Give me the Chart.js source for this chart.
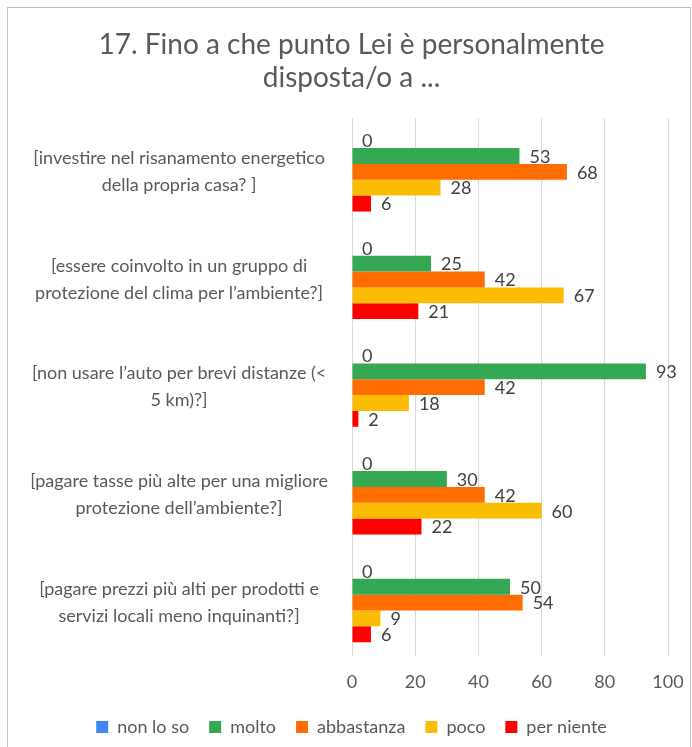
<!DOCTYPE html>
<html>
<head>
<meta charset="utf-8">
<script src="https://cdn.jsdelivr.net/npm/chart.js@4.4.1/dist/chart.umd.min.js"></script>
<style>
body{margin:0;background:#fff;}
#wrap{width:692px;height:747px;position:relative;}
</style>
</head>
<body>
<div id="wrap"><canvas id="myChart" width="692" height="747"></canvas></div>
<script>
var categories=[
	['[investire nel risanamento energetico','della propria casa? ]'],
	['[essere coinvolto in un gruppo di','protezione del clima per l\u2019ambiente?]'],
	['[non usare l\u2019auto per brevi distanze (<','5 km)?]'],
	['[pagare tasse pi\u00f9 alte per una migliore','protezione dell\u2019ambiente?]'],
	['[pagare prezzi pi\u00f9 alti per prodotti e','servizi locali meno inquinanti?]']
];
var seriesNames=['non lo so','molto','abbastanza','poco','per niente'];
var nonLoSo=[0,0,0,0,0];
var molto=[53,25,93,30,50];
var abbastanza=[68,42,42,42,54];
var poco=[28,67,18,60,9];
var perNiente=[6,21,2,22,6];
var xTicks=[0,20,40,60,80,100];
var colors=['#4285f4','#34a853','#ff6d01','#fbbc04','#ff0000'];

var allSeries=[nonLoSo,molto,abbastanza,poco,perNiente];
var datasets=allSeries.map(function(d,i){
	return {label:seriesNames[i],data:d,backgroundColor:colors[i],borderWidth:0,
		categoryPercentage:0.735,barPercentage:1};
});

var fontFam='Lato, "Open Sans", sans-serif';

var labelPlugin={
	id:'valueLabels',
	afterDatasetsDraw:function(chart){
		var c=chart.ctx;
		c.save();
		c.font='18px '+fontFam;
		c.fillStyle='#404040';
		c.textAlign='left';
		c.textBaseline='middle';
		chart.data.datasets.forEach(function(ds,i){
			chart.getDatasetMeta(i).data.forEach(function(bar,j){
				c.fillText(ds.data[j],bar.x+10,bar.y+1);
			});
		});
		c.restore();
	}
};
var borderPlugin={
	id:'frame',
	beforeDraw:function(chart){
		var c=chart.ctx;
		c.save();
		c.fillStyle='#fff';
		c.fillRect(0,0,chart.width,chart.height);
		c.strokeStyle='#bfbfbf';
		c.lineWidth=1;
		c.strokeRect(7.5,7.5,683,760);
		c.restore();
	}
};
// keep wide spacing between legend items but a short legend box
var legendHeight={
	id:'legendHeight',
	beforeLayout:function(chart){
		var lg=chart.legend;
		if(lg && !lg._fixed){
			var fit=lg.fit;
			lg.fit=function(){fit.call(this);this.height=39;};
			lg._fixed=true;
		}
	},
	afterLayout:function(chart){
		var lg=chart.legend;
		if(lg){lg.top-=10;lg.bottom-=10;}
	}
};

var ctx=document.getElementById('myChart').getContext('2d');
var myChart=new Chart(ctx,{
	type:'bar',
	data:{labels:categories,datasets:datasets},
	plugins:[borderPlugin,labelPlugin,legendHeight],
	options:{
		indexAxis:'y',
		responsive:false,
		animation:false,
		layout:{padding:{left:24,right:13,top:14,bottom:0}},
		plugins:{
			title:{display:true,text:['17. Fino a che punto Lei \u00e8 personalmente','disposta/o a ...'],
				color:'#595959',font:{family:fontFam,size:28,weight:'normal',lineHeight:1.16},
				padding:{top:15,bottom:24}},
			legend:{position:'bottom',
				labels:{color:'#595959',boxWidth:12,boxHeight:12,padding:20,
					font:{family:fontFam,size:18}}},
			tooltip:{enabled:false}
		},
		scales:{
			x:{min:0,max:100,
				afterBuildTicks:function(axis){axis.ticks=xTicks.map(function(v){return {value:v};});},
				afterFit:function(axis){axis.paddingRight=24;},
				grid:{color:'#d9d9d9',drawTicks:false},
				border:{display:false},
				ticks:{color:'#595959',padding:15,font:{family:fontFam,size:18}}},
			y:{grid:{display:false},
				border:{display:false},
				afterFit:function(axis){axis.width=328;},
				ticks:{color:'#595959',crossAlign:'center',padding:16,
					font:{family:fontFam,size:18,lineHeight:1.5}}}
		}
	}
});
</script>
</body>
</html>
